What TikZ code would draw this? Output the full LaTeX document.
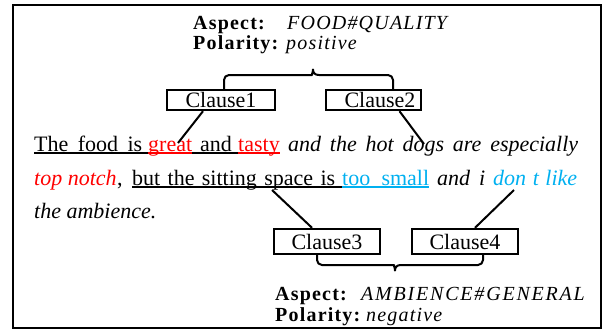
\documentclass[tikz,border=0pt]{standalone}
\usepackage{fontspec}
\setmainfont{Liberation Serif}
\newfontfamily\headfont[LetterSpace=6]{Liberation Serif}
\newfontfamily\headfontwide[LetterSpace=9]{Liberation Serif}
\definecolor{myred}{RGB}{255,0,0}
\definecolor{myblue}{RGB}{0,176,240}
\newcommand{\stretchto}[2]{\hbox to #1{#2}}
\begin{document}
\begin{tikzpicture}[x=1pt,y=-1pt,
  body/.style={anchor=base west, inner sep=0pt, font=\fontsize{22}{26}\selectfont},
  head/.style={anchor=base west, inner sep=0pt, font=\headfont\fontsize{20}{24}\selectfont},
  headwide/.style={anchor=base west, inner sep=0pt, font=\headfontwide\fontsize{20}{24}\selectfont},
  clausebox/.style={draw, line width=2.4pt, inner sep=0pt, minimum height=20pt, font=\fontsize{22}{26}\selectfont},
  conn/.style={line width=2pt},
  ul/.style={line width=1.8pt},
  bracestyle/.style={line width=2pt, line join=round}
]
\useasboundingbox (0,0) rectangle (602,329);
\draw[line width=2pt] (13,5) rectangle (600.5,328);

% top heading
\node[head] (asp1) at (193,30) {\bfseries Aspect:};
\node[head] (asp1v) at (287,30) {\itshape FOOD\#QUALITY};
\node[head] (pol1) at (193,50) {\bfseries Polarity:};
\node[head] (pol1v) at (286,50) {\itshape positive};

% clause boxes
\node[clausebox, minimum width=108pt] (c1) at (221,100) {Clause1};
\node[clausebox, minimum width=95pt] (c2) at (373.5,100) {\hspace*{13pt}Clause2};
\node[clausebox, minimum width=106pt, minimum height=25pt] (c3) at (327,241.5) {Clause3};
\node[clausebox, minimum width=106pt, minimum height=25pt] (c4) at (465,241.5) {Clause4};

% line 1
\node[body] (w1) at (34,151) {\stretchto{108pt}{The food is}};
\node[body, text=myred] (w2) at (148,151) {great};
\node[body] (w3) at (200,151) {and};
\node[body, text=myred] (w4) at (238,151) {tasty};
\node[body] (w5) at (288,151) {\itshape\stretchto{290pt}{and the hot dogs are especially}};

% line 2
\node[body, text=myred] (w6) at (34,185) {\itshape top notch};
\node[body] (w7) at (w6.base east) {,};
\node[body] (w8) at (132,185) {\stretchto{203pt}{but the sitting space is}};
\node[body, text=myblue] (w9) at (342,185) {\stretchto{87pt}{too small}};
\node[body] (w10) at (437,185) {\itshape\stretchto{48pt}{and i}};
\node[body, text=myblue] (w11) at (493,185) {\itshape\stretchto{84pt}{don t like}};

% line 3
\node[body] (w12) at (34,218) {\itshape the ambience.};

% underlines
\draw[ul] ([yshift=-2pt]w1.base west) -- ([yshift=-2pt]w4.base east);
\draw[ul, myred] ([yshift=-2pt]w2.base west) -- ([yshift=-2pt]w2.base east);
\draw[ul, myred] ([yshift=-2pt]w4.base west) -- ([yshift=-2pt]w4.base east);
\draw[ul] ([yshift=-2pt]w8.base west) -- ([yshift=-2pt]w9.base west);
\draw[ul, myblue] ([yshift=-2pt]w9.base west) -- ([yshift=-2pt]w9.base east);

% bottom heading
\node[head] (asp2) at (275,300) {\bfseries Aspect:};
\node[headwide] (asp2v) at (361,300) {\itshape AMBIENCE\#GENERAL};
\node[head] (pol2) at (275,321) {\bfseries Polarity:};
\node[head] (pol2v) at (366,321) {\itshape negative};

% connectors
\coordinate (e1) at (178,143);
\draw[conn] ([xshift=-18pt]c1.south) -- (e1);
\coordinate (e2) at (424,144);
\draw[conn] ([xshift=26pt]c2.south) -- (e2);
\coordinate (e3) at (272,190);
\draw[conn] (e3) -- ([xshift=-15pt]c3.north);
\coordinate (e4) at (514,190);
\draw[conn] (e4) -- ([xshift=10pt]c4.north);

% braces
\draw[bracestyle] (224,90) [rounded corners=5pt] -- (224,75) -- (307,75) [sharp corners]
  .. controls (311,75) and (313,73) .. (313,69.5)
  .. controls (313,73) and (315,75) .. (319,75) [rounded corners=5pt] -- (393,75) -- (393,90);
\draw[bracestyle] (317,254) [rounded corners=5pt] -- (317,265) -- (389,265) [sharp corners]
  .. controls (393,265) and (395,267) .. (395,270.5)
  .. controls (395,267) and (397,265) .. (401,265) [rounded corners=5pt] -- (483,265) -- (483,254);
\end{tikzpicture}
\end{document}
